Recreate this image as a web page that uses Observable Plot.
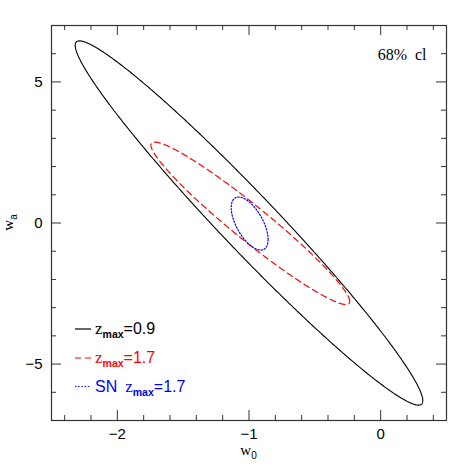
<!DOCTYPE html>
<html><head><meta charset="utf-8">
<script src="https://cdn.jsdelivr.net/npm/d3@7"></script>
<script src="https://cdn.jsdelivr.net/npm/@observablehq/plot@0.6"></script>
<style>body{margin:0;background:#fff} #chart{width:471px;height:471px}</style>
</head><body><div id="chart"></div>
<script>
// Fisher-forecast 68% cl ellipses in the (w0, wa) plane
const seriesNames = ["zmax=0.9", "zmax=1.7", "SN zmax=1.7"];
const w0Fid    = [-1.00, -0.99, -0.995];   // ellipse centre, w0
const waFid    = [0.00, -0.01, -0.02];     // ellipse centre, wa
const w0Extent = [1.32, 0.755, 0.14];      // half-extent of contour in w0
const waExtent = [6.455, 2.88, 0.94];      // half-extent of contour in wa
const corr     = [-0.975, -0.962, -0.60];  // w0-wa correlation
const legendLabels = [["", "0.9"], ["", "1.7"], ["SN\u2002", "1.7"]];
const colors = ["#000000", "#ff0000", "#0000ff"];
const dashes = [null, "6,4", "1.4,1.8"];

const xMajor = [-2, -1, 0];
const xMinor = [-2.4, -2.2, -1.8, -1.6, -1.4, -1.2, -0.8, -0.6, -0.4, -0.2, 0.2, 0.4];
const yMajor = [-5, 0, 5];
const yMinor = [-6, -4, -3, -2, -1, 1, 2, 3, 4, 6];

const W = 471, H = 471, mL = 51, mR = 25, mT = 25, mB = 51;
const pw = W - mL - mR, ph = H - mT - mB;

function contour(i) {
  const pts = [];
  const s = Math.sqrt(1 - corr[i] * corr[i]);
  for (let k = 0; k < 720; k++) {
    const t = (k / 720) * 2 * Math.PI;
    pts.push({
      w0: w0Fid[i] + w0Extent[i] * Math.cos(t),
      wa: waFid[i] + waExtent[i] * (corr[i] * Math.cos(t) + s * Math.sin(t))
    });
  }
  return pts;
}

const fmt = d3.format("d");
const tickStroke = "#333";
const marks = [];
seriesNames.forEach((n, i) => {
  marks.push(Plot.line(contour(i), {x: "w0", y: "wa", curve: "linear-closed",
    stroke: colors[i], strokeWidth: i === 0 ? 1.1 : 1.2, strokeDasharray: dashes[i]}));
});
marks.push(
  Plot.tickX(xMajor, {x: d => d, insetTop: ph - 10, stroke: tickStroke}),
  Plot.tickX(xMajor, {x: d => d, insetBottom: ph - 10, stroke: tickStroke}),
  Plot.tickX(xMinor, {x: d => d, insetTop: ph - 5, stroke: tickStroke}),
  Plot.tickX(xMinor, {x: d => d, insetBottom: ph - 5, stroke: tickStroke}),
  Plot.tickY(yMajor, {y: d => d, insetRight: pw - 10, stroke: tickStroke}),
  Plot.tickY(yMajor, {y: d => d, insetLeft: pw - 10, stroke: tickStroke}),
  Plot.tickY(yMinor, {y: d => d, insetRight: pw - 5, stroke: tickStroke}),
  Plot.tickY(yMinor, {y: d => d, insetLeft: pw - 5, stroke: tickStroke}),
  Plot.frame({stroke: tickStroke, strokeWidth: 1.2}),
  Plot.axisX({ticks: xMajor, tickFormat: fmt, tickSize: 0, tickPadding: 8, label: null,
    fontSize: 15, fontFamily: "Liberation Sans", fill: "#000"}),
  Plot.axisY({ticks: yMajor, tickFormat: fmt, tickSize: 0, tickPadding: 9, label: null,
    fontSize: 15, fontFamily: "Liberation Sans", fill: "#000"}),
  Plot.text(["68%\u2002cl"], {frameAnchor: "top-right", dx: -20, dy: 34, lineAnchor: "bottom",
    textAnchor: "end", fontSize: 16, fontFamily: "Liberation Serif", fill: "#000"})
);

const chart = Plot.plot({
  width: W, height: H,
  marginLeft: mL, marginRight: mR, marginTop: mT, marginBottom: mB,
  x: {domain: [-2.5, 0.5]},
  y: {domain: [-7, 7]},
  style: {background: "#fff", color: "#000"},
  marks
});
document.getElementById("chart").append(chart);

const svg = d3.select(chart);
// axis labels with subscripts
const xl = svg.append("text").attr("x", mL + pw / 2).attr("y", 455)
  .attr("text-anchor", "middle").attr("font-family", "Liberation Serif").attr("font-size", 15).attr("fill", "#000");
xl.append("tspan").text("w");
xl.append("tspan").attr("font-size", 10).attr("dy", 4).attr("font-family", "Liberation Sans").text("0");

const yl = svg.append("text").attr("transform", `translate(13,${mT + ph / 2}) rotate(-90)`)
  .attr("text-anchor", "middle").attr("font-family", "Liberation Serif").attr("font-size", 15).attr("fill", "#000");
yl.append("tspan").text("w");
yl.append("tspan").attr("font-size", 10).attr("dy", 4).attr("font-family", "Liberation Sans").text("a");

// legend
const legY = [329, 358, 386.5];
seriesNames.forEach((n, i) => {
  const g = svg.append("g").attr("fill", colors[i]);
  g.append("line").attr("x1", 75).attr("x2", 91).attr("y1", legY[i]).attr("y2", legY[i])
    .attr("stroke", colors[i]).attr("stroke-width", 1.2).attr("stroke-dasharray", dashes[i]);
  const t = g.append("text").attr("x", 95).attr("y", legY[i] + 5).attr("text-anchor", "start")
    .attr("font-family", "Liberation Sans").attr("font-size", 16);
  if (legendLabels[i][0]) t.append("tspan").text(legendLabels[i][0]);
  t.append("tspan").attr("font-family", "Liberation Serif").attr("font-size", 17).text("z");
  t.append("tspan").attr("font-size", 10.5).attr("font-weight", "bold").attr("dy", 4).text("max");
  t.append("tspan").attr("dy", -4).text("=" + legendLabels[i][1]);
});
</script>
</body></html>
